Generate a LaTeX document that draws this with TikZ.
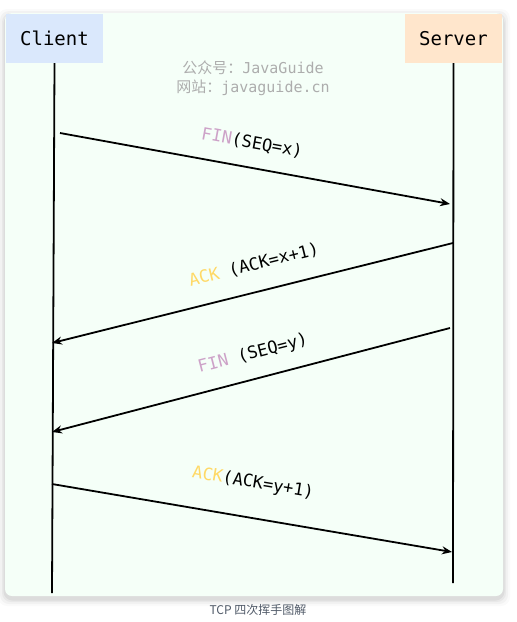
\documentclass[tikz,border=0pt]{standalone}
\usepackage{fontspec}
\setmainfont{DejaVu Sans}
\newfontfamily\monof{DejaVu Sans Mono}
\newfontfamily\cjk{Noto Sans CJK SC}
\usetikzlibrary{arrows.meta}
\definecolor{panelbg}{HTML}{F5FFF8}
\definecolor{clientblue}{HTML}{DAE8FC}
\definecolor{serverorange}{HTML}{FFE6CC}
\definecolor{finpink}{HTML}{CDA2C8}
\definecolor{ackyellow}{HTML}{FFD966}
\definecolor{wmgray}{HTML}{ADADAD}
\definecolor{capgray}{HTML}{505A68}
\tikzset{
  actor/.style={draw=none, minimum width=97pt, minimum height=49pt, inner sep=0pt,
    font=\monof\fontsize{19}{21}\selectfont},
  lifeline/.style={line width=1.8pt, black},
  msg/.style={line width=1.8pt, black, -{Stealth[length=10pt,width=8pt]}},
  msglabel/.style={inner sep=0pt, font=\monof\fontsize{17}{19}\selectfont},
  wm/.style={inner sep=0pt, text=wmgray, font=\fontsize{15}{17}\selectfont}
}
\begin{document}
\begin{tikzpicture}[x=1pt,y=-1pt]
\useasboundingbox (0,0) rectangle (517,622);
\fill[white] (0,0) rectangle (517,622);
% shadow
\foreach \i/\o in {7/0.02,5/0.03,3/0.04,1.5/0.05}{
  \fill[black, opacity=\o, rounded corners=9pt] (5-\i,13-\i+3) rectangle (503+\i,596+\i+3);
}
\fill[panelbg, rounded corners=7pt] (5,13) rectangle (503,596);
% actors
\node[actor, fill=clientblue] (client) at (54.5,38.5) {Client};
\node[actor, fill=serverorange] (server) at (453.5,38.5) {Server};
% watermark
\node[wm] (wm1) at (253,68) {\cjk 公众号：\monof JavaGuide};
\node[wm] (wm2) at (253,88) {\cjk 网站：\monof javaguide.cn};
% lifelines
\coordinate (cend) at (52,593);
\coordinate (send) at (453,583);
\draw[lifeline] (client.south) -- (cend);
\draw[lifeline] (server.south) -- (send);
% message endpoints
\coordinate (m1s) at (60,133);  \coordinate (m1e) at (450,204);
\coordinate (m2s) at (453,243); \coordinate (m2e) at (52,343);
\coordinate (m3s) at (450,328); \coordinate (m3e) at (52,432);
\coordinate (m4s) at (52,484);  \coordinate (m4e) at (452,552);
\draw[msg] (m1s) -- (m1e);
\draw[msg] (m2s) -- (m2e);
\draw[msg] (m3s) -- (m3e);
\draw[msg] (m4s) -- (m4e);
% labels
\node[msglabel, rotate=-10.3] (l1) at (252,143) {\textcolor{finpink}{FIN}(SEQ=x)};
\node[msglabel, rotate=14] (l2) at (254,265) {\textcolor{ackyellow}{ACK} (ACK=x+1)};
\node[msglabel, rotate=14.6] (l3) at (253,354) {\textcolor{finpink}{FIN} (SEQ=y)};
\node[msglabel, rotate=-9.6] (l4) at (253,483) {\textcolor{ackyellow}{ACK}(ACK=y+1)};
% caption
\node[inner sep=0pt, text=capgray, font=\fontsize{12}{14}\selectfont] (cap) at (258,610) {\cjk TCP 四次挥手图解};
\end{tikzpicture}
\end{document}
